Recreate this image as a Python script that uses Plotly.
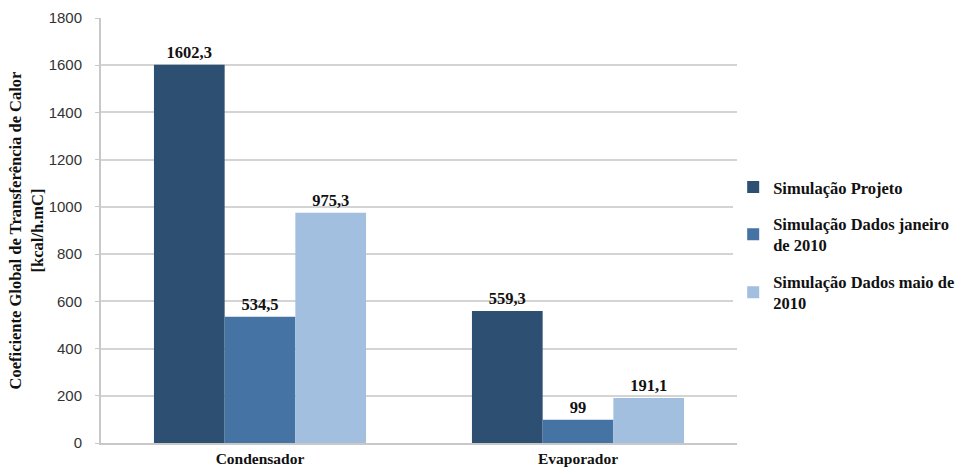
import plotly.graph_objects as go

categories = ["Condensador", "Evaporador"]
series_names = [
    "Simulação Projeto",
    "Simulação Dados janeiro<br>de 2010",
    "Simulação Dados maio de<br>2010",
]
series_values = [
    [1602.3, 559.3],
    [534.5, 99],
    [975.3, 191.1],
]
colors = ["#2D4F71", "#4573A4", "#A3BFDF"]
y_ticks = [0, 200, 400, 600, 800, 1000, 1200, 1400, 1600, 1800]

SERIF = "Liberation Serif"
FS = 16.5

def fmt(v):
    return f"{v:g}".replace(".", ",")

fig = go.Figure()
for i, (name, vals) in enumerate(zip(series_names, series_values)):
    fig.add_trace(go.Bar(
        x=categories, y=vals, name=name,
        marker=dict(color=colors[i], line=dict(width=0)),
        text=[fmt(v) for v in vals], textposition="outside",
        textfont=dict(family=SERIF, size=FS, color="#111", weight="bold"),
        cliponaxis=False, legendgroup=f"g{i}",
    ))

fig.update_layout(
    width=959, height=468,
    margin=dict(l=101, r=222, t=18, b=25, autoexpand=False),
    barmode="group", bargap=0.333, bargroupgap=0,
    plot_bgcolor="white", paper_bgcolor="white",
    showlegend=True,
    legend=dict(x=0.994, y=0.465, yanchor="middle", xanchor="left",
                font=dict(family=SERIF, size=FS, color="#111", weight="bold"),
                tracegroupgap=12, itemwidth=30),
    xaxis=dict(showline=True, linecolor="#c8c8c8", linewidth=2, ticks="",
               tickfont=dict(family=SERIF, size=15.5, color="#111", weight="bold"),
               ticklabelstandoff=0, automargin=False),
    yaxis=dict(range=[0, 1800], tickvals=y_ticks, showgrid=True, gridcolor="#d4d4d4",
               gridwidth=2, showline=True, linecolor="#c8c8c8", linewidth=2, zeroline=False,
               ticks="outside", ticklen=4, tickcolor="#c8c8c8", automargin=False,
               ticklabelstandoff=10,
               tickfont=dict(family="Liberation Sans", size=15, color="#333"),
               title=dict(text="Coeficiente Global de Transferência de Calor<br>[kcal/h.mC]",
                          font=dict(family=SERIF, size=FS, color="#111", weight="bold"), standoff=1)),
)

fig.write_html("out.html")
